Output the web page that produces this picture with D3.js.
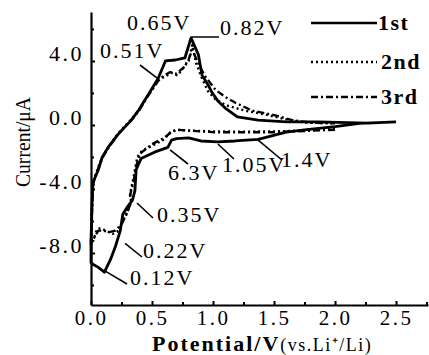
<!DOCTYPE html>
<html>
<head>
<meta charset="utf-8">
<script src="https://cdnjs.cloudflare.com/ajax/libs/d3/7.8.5/d3.min.js"></script>
<style>
  body { margin: 0; background: #fff; }
  text { font-family: "Liberation Serif", "Times New Roman", serif; fill: #000; }
</style>
</head>
<body>
<script>
const WIDTH = 429;
const HEIGHT = 355;

// 1st cycle: cathodic from 2.5 V down to 0 V, then anodic back up
const potential1 = [2.5, 2.2, 2.0, 1.75, 1.6, 1.37, 1.18, 1.04, 0.9, 0.8, 0.7, 0.66, 0.63, 0.52, 0.41, 0.37, 0.36, 0.34, 0.30, 0.26, 0.24, 0.20, 0.16, 0.11, 0.06, 0.016, 0.0,
  0.0, 0.01, 0.016, 0.06, 0.09, 0.14, 0.22, 0.28, 0.33, 0.385, 0.47, 0.55, 0.61, 0.69, 0.77, 0.82, 0.88, 0.91, 0.96, 0.99, 1.04, 1.1, 1.2, 1.37, 1.6, 1.86, 2.27, 2.5];
const current1 = [0.2, 0.1, -0.1, -0.3, -0.45, -0.9, -1.0, -1.05, -1.0, -0.8, -0.85, -0.95, -1.4, -1.7, -2.1, -2.8, -4.1, -4.7, -5.1, -5.6, -6.6, -7.6, -8.4, -9.2, -8.9, -8.7, -8.6,
  -7.2, -4.7, -3.6, -2.8, -2.05, -1.4, -0.6, -0.1, 0.3, 0.86, 1.9, 2.9, 4.0, 4.06, 4.2, 5.44, 4.4, 3.1, 2.5, 2.05, 1.5, 1.06, 0.5, 0.3, 0.2, 0.2, 0.12, 0.2];

// 2nd cycle: from 2.0 V down to 0 V and back
const potential2 = [2.0, 1.75, 1.5, 1.25, 1.0, 0.8, 0.7, 0.65, 0.6, 0.5, 0.42, 0.38, 0.36, 0.34, 0.32, 0.33, 0.30, 0.26, 0.23, 0.18, 0.12, 0.08, 0.05, 0.02, 0.0,
  0.005, 0.01, 0.02, 0.06, 0.1, 0.15, 0.22, 0.28, 0.33, 0.39, 0.47, 0.55, 0.6, 0.66, 0.71, 0.77, 0.8, 0.83, 0.86, 0.91, 0.96, 1.02, 1.1, 1.26, 1.43, 1.6, 1.75, 2.0];
const current2 = [-0.25, -0.35, -0.4, -0.42, -0.4, -0.35, -0.3, -0.45, -0.9, -1.3, -1.6, -2.0, -2.8, -3.6, -4.3, -4.8, -5.4, -6.0, -6.6, -6.8, -6.6, -6.45, -6.5, -7.2, -7.5,
  -6.0, -4.6, -3.5, -2.6, -1.9, -1.3, -0.55, -0.05, 0.35, 0.9, 1.9, 2.8, 3.0, 3.25, 3.1, 3.7, 4.0, 5.0, 3.9, 2.9, 2.1, 1.6, 1.25, 0.9, 0.65, 0.35, 0.15, 0.1];

// 3rd cycle
const potential3 = [2.0, 1.5, 1.0, 0.8, 0.7, 0.65, 0.6, 0.5, 0.4, 0.37, 0.35, 0.32, 0.33, 0.29, 0.25, 0.2, 0.15, 0.1, 0.06, 0.03, 0.0,
  0.005, 0.01, 0.02, 0.06, 0.1, 0.15, 0.22, 0.28, 0.33, 0.39, 0.47, 0.55, 0.6, 0.65, 0.7, 0.76, 0.8, 0.83, 0.87, 0.93, 0.98, 1.02, 1.1, 1.18, 1.32, 1.51, 1.65, 1.8, 2.0];
const current3 = [-0.3, -0.45, -0.45, -0.35, -0.3, -0.5, -0.8, -1.2, -1.8, -2.6, -3.5, -4.4, -4.8, -5.6, -6.2, -6.6, -6.7, -6.6, -6.6, -7.0, -7.4,
  -6.2, -4.8, -3.6, -2.7, -1.95, -1.35, -0.6, -0.1, 0.3, 0.85, 1.85, 2.75, 3.1, 3.3, 3.2, 3.6, 4.1, 4.7, 4.0, 3.1, 2.6, 2.2, 1.75, 1.4, 0.9, 0.6, 0.3, 0.15, 0.1];

const xTicks = [0, 0.5, 1.0, 1.5, 2.0, 2.5];
const yTicks = [4, 0, -4, -8];

const cycleNames = ["1st", "2nd", "3rd"];
const cycleDash = ["none", "2,3", "7,3,2,3"];

// peak labels: text, point on the curve (V, µA)
const peakLabels = ["0.51V", "0.82V", "6.3V", "1.05V", "1.4V", "0.35V", "0.22V", "0.12V"];
const peakV = [0.54, 0.82, 0.648, 1.04, 1.37, 0.377, 0.279, 0.11];
const peakI = [2.94, 5.5, -1.56, -1.19, -0.94, -4.875, -7.4, -9.1];

const svg = d3.select("body").append("svg")
  .attr("width", WIDTH)
  .attr("height", HEIGHT);

const x = d3.scaleLinear().domain([0, 2.762]).range([91, 428]);
const y = d3.scaleLinear().domain([-11.25, 7.06]).range([305, 12]);

// axes with inward ticks
const xAxis = svg.append("g")
  .attr("transform", "translate(0," + y(-11.25) + ")")
  .call(d3.axisBottom(x).tickValues(xTicks).tickSizeInner(-4).tickSizeOuter(0)
    .tickFormat(d => d.toFixed(1)));
svg.append("g")
  .attr("transform", "translate(0," + y(-11.25) + ")")
  .call(d3.axisBottom(x).tickValues([0.25, 0.75, 1.25, 1.75, 2.25, 2.75]).tickSizeInner(-3).tickSizeOuter(0).tickFormat(""))
  .select(".domain").remove();
xAxis.selectAll("text")
  .attr("y", 20).attr("dy", 0)
  .style("font-size", "21px")
  .style("letter-spacing", "2.5px");

const yAxis = svg.append("g")
  .attr("transform", "translate(" + x(0) + ",0)")
  .call(d3.axisLeft(y).tickValues(yTicks).tickSizeInner(-4).tickSizeOuter(0).tickPadding(7)
    .tickFormat(d => d.toFixed(1)));
svg.append("g")
  .attr("transform", "translate(" + x(0) + ",0)")
  .call(d3.axisLeft(y).tickValues([6, 2, -2, -6, -10]).tickSizeInner(-3).tickSizeOuter(0).tickFormat(""))
  .select(".domain").remove();
yAxis.selectAll("text")
  .attr("dy", 0)
  .style("font-size", "22px")
  .style("letter-spacing", "2.5px");

svg.selectAll(".domain").attr("stroke-width", 2.2);
svg.selectAll(".tick line").attr("stroke-width", 2);

// axis titles
svg.append("text")
  .attr("transform", "translate(30,142) rotate(-90)")
  .attr("text-anchor", "middle")
  .attr("textLength", 90)
  .attr("lengthAdjust", "spacingAndGlyphs")
  .style("font-size", "21px")
  .text("Current/\u03bcA");

const xTitle = svg.append("text")
  .attr("x", 152)
  .attr("y", 351);
xTitle.append("tspan")
  .style("font-size", "22px")
  .style("font-weight", "bold")
  .style("letter-spacing", "2px")
  .text("Potential/V");
xTitle.append("tspan")
  .style("font-size", "18px")
  .style("letter-spacing", "1.5px")
  .text("(vs.Li\u207a/Li)");

// curves
const line = d3.line()
  .x(d => x(d[0]))
  .y(d => y(d[1]));

const cycles = [
  d3.zip(potential1, current1),
  d3.zip(potential2, current2),
  d3.zip(potential3, current3)
];

cycles.forEach((pts, i) => {
  svg.append("path")
    .datum(pts)
    .attr("fill", "none")
    .attr("stroke", "#000")
    .attr("stroke-width", i === 0 ? 2.8 : 2.4)
    .attr("stroke-linejoin", "round")
    .attr("stroke-dasharray", cycleDash[i])
    .attr("d", line);
});

// legend
cycleNames.forEach((name, i) => {
  const ly = [23, 62, 97][i];
  svg.append("line")
    .attr("x1", 311).attr("x2", 377)
    .attr("y1", ly).attr("y2", ly)
    .attr("stroke", "#000")
    .attr("stroke-width", 2.4)
    .attr("stroke-dasharray", cycleDash[i]);
  svg.append("text")
    .attr("x", i === 0 ? 378 : 381)
    .attr("y", ly + 7)
    .style("font-size", "22px")
    .style("font-weight", "bold")
    .style("letter-spacing", "1.5px")
    .text(name);
});

// peak annotations: leader from the curve point to the label
const leaderEnd = [[140, 65], [219, 37], [188, 164], [234, 159], [282, 160], [153, 218], [142, 257], [127, 284]];
const labelPos = [[100, 58], [220, 35], [168, 180], [222, 172], [281, 167], [157, 222], [143, 258], [130, 285]];

peakLabels.forEach((lab, i) => {
  svg.append("line")
    .attr("x1", x(peakV[i])).attr("y1", y(peakI[i]))
    .attr("x2", leaderEnd[i][0]).attr("y2", leaderEnd[i][1])
    .attr("stroke", "#000")
    .attr("stroke-width", 1.6);
  svg.append("text")
    .attr("x", labelPos[i][0])
    .attr("y", labelPos[i][1])
    .style("font-size", "22px")
    .style("letter-spacing", "2px")
    .text(lab);
});

svg.append("text")
  .attr("x", 127)
  .attr("y", 30)
  .style("font-size", "22px")
  .style("letter-spacing", "2px")
  .text("0.65V");
</script>
</body>
</html>
